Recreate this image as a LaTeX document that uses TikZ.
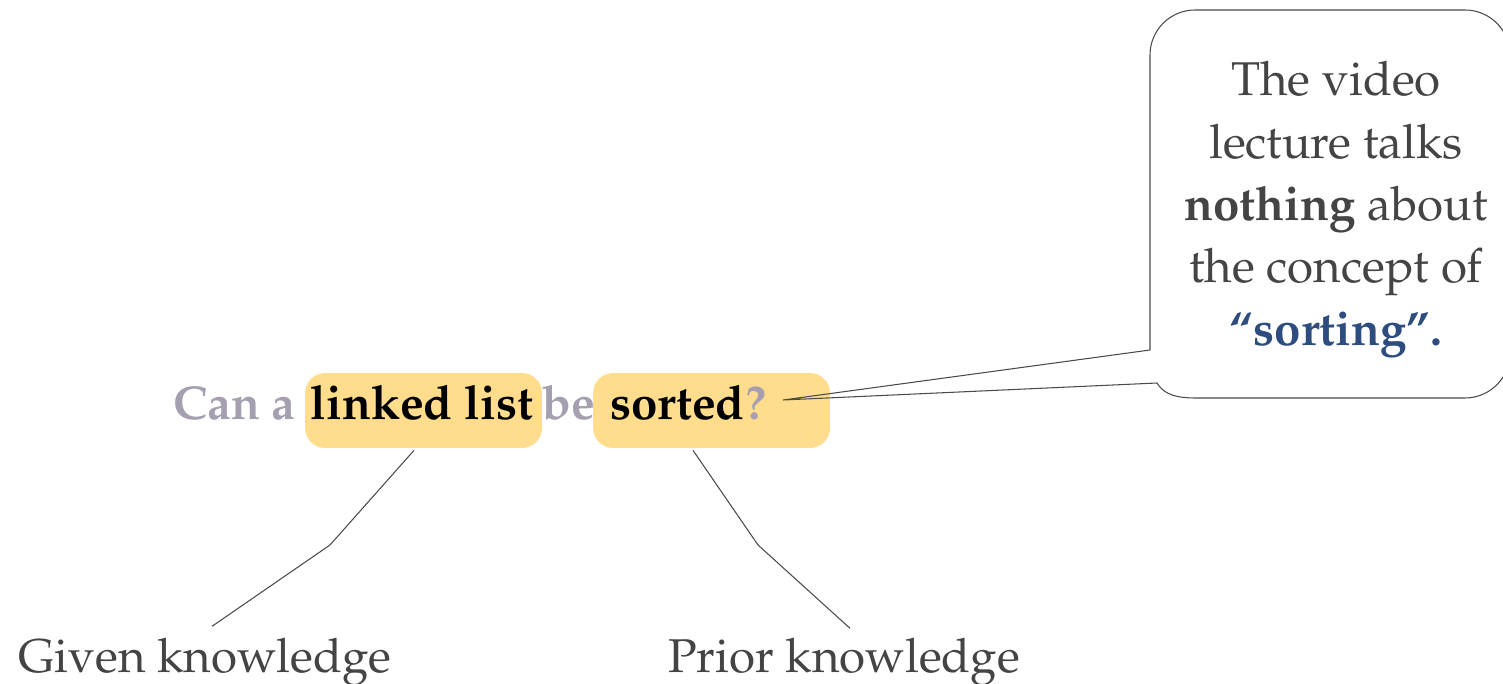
\documentclass[tikz,border=0pt]{standalone}
\usepackage[T1]{fontenc}
\usepackage{mathpazo}
\definecolor{qgray}{HTML}{A59FB0}
\definecolor{hl}{HTML}{FFDD8C}
\definecolor{txt}{HTML}{444444}
\definecolor{blu}{HTML}{2E4C7E}
\definecolor{ln}{HTML}{4A4A4A}
\begin{document}
\begin{tikzpicture}[x=0.02cm,y=0.02cm,
  hlbox/.style={fill=hl, rounded corners=0.4cm, minimum width=4.74cm, minimum height=1.5cm, inner sep=0},
  qtext/.style={font=\fontsize{27}{33}\selectfont\bfseries, inner sep=0, text=qgray},
  ktext/.style={font=\fontsize{27}{33}\selectfont\bfseries, inner sep=0, text=black},
  lbl/.style={font=\fontsize{27}{33}\selectfont, text=txt, inner sep=0},
  boxtext/.style={font=\fontsize{27}{35.5}\selectfont, text=txt, inner sep=0, align=center},
  conn/.style={draw=ln, line width=0.6pt}]
\useasboundingbox (0,0) rectangle (1503,683);
\clip (0,0) rectangle (1503,683);
% highlighted boxes
\node[hlbox] (hl1) at (423.5,272.5) {};
\node[hlbox] (hl2) at (711.5,272.5) {};
% question
\node[ktext, anchor=base] (w1) at (422,263) {linked list};
\node[qtext, anchor=base east] (w0) at (296,263) {Can a};
\node[qtext, anchor=base] (w2) at (569,263) {be};
\node[ktext, anchor=base west] (w3) at (610,263) {sorted};
\node[qtext, anchor=base west] (w4) at (w3.base east) {?};
% labels
\node[lbl, anchor=base] (g) at (205,11) {Given knowledge};
\node[lbl, anchor=base] (p) at (844,11) {Prior knowledge};
% connectors
\coordinate (b1) at (330,138);
\coordinate (b2) at (758,138);
\draw[conn] ([shift={(-9.5,-2)}]hl1.south) -- (b1) -- ([shift={(7,11)}]g.north);
\draw[conn] ([shift={(-18.5,-2)}]hl2.south) -- (b2) -- ([shift={(6,9)}]p.north);
% callout
\coordinate (tip) at (783,283);
\draw[conn] (tip) -- (1150,333) -- (1150,628) arc[start angle=180, end angle=90, radius=0.9cm]
  -- (1465,673) arc[start angle=90, end angle=0, radius=0.9cm]
  -- (1510,330) arc[start angle=0, end angle=-90, radius=0.9cm]
  -- (1195,285) .. controls (1170,285) and (1162,292) .. (1157,300) -- (tip);
\node[boxtext, anchor=north] (co) at (1336,622) {The video\\lecture talks\\\textbf{nothing} about\\the concept of\\\textcolor{blu}{\textbf{``sorting''.}}};
\end{tikzpicture}
\end{document}
